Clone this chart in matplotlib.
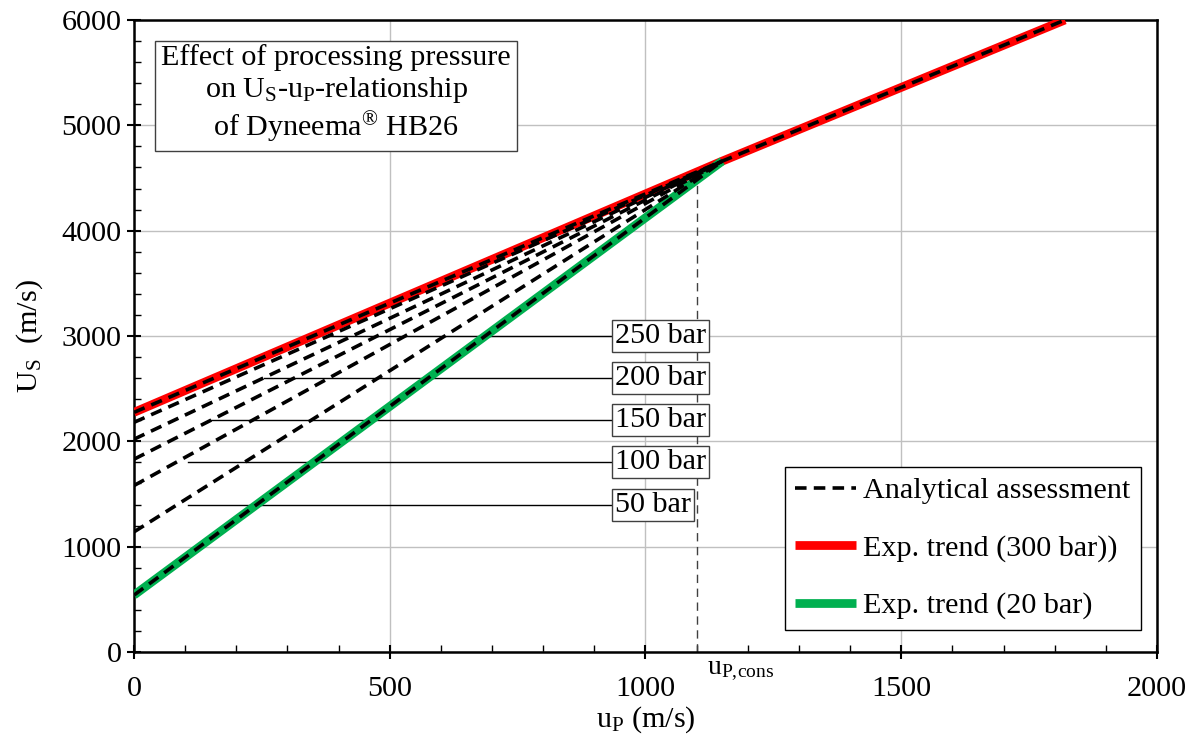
import numpy as np
import matplotlib.pyplot as plt
from matplotlib.ticker import MultipleLocator

plt.rcParams['font.family'] = ['Liberation Serif', 'DejaVu Serif']
plt.rcParams['mathtext.fontset'] = 'custom'
plt.rcParams['mathtext.rm'] = 'Liberation Serif'
plt.rcParams['mathtext.it'] = 'Liberation Serif'

# data
pressures = ['250 bar', '200 bar', '150 bar', '100 bar', '50 bar']
us_0_dashed = [2180, 2020, 1830, 1580, 1140]   # U_S at u_P = 0 (analytical)
us_0_red = 2275    # 300 bar trend
us_0_green = 540   # 20 bar trend
up_kink = 1150
us_kink = 4660
up_end = 1820
us_end = 6000
up_cons = 1100

# label leader lines
label_us = [3000, 2600, 2200, 1800, 1400]
label_up_start = [380, 255, 150, 105, 105]
label_up_end = 935

FS = 21.7

fig = plt.figure(figsize=(11.95, 7.4), dpi=100)
ax = fig.add_axes([0.1121, 0.1189, 0.8561, 0.8541])

def trend(us0):
    return [0, up_kink, up_end], [us0, us_kink, us_end]

x, y = trend(us_0_red)
ax.plot(x, y, color='#ff0000', lw=6.3, solid_capstyle='butt', zorder=3,
        label='Exp. trend (300 bar))')
x, y = trend(us_0_green)
ax.plot(x[:2], y[:2], color='#00b050', lw=6.3, solid_capstyle='butt', zorder=3,
        label='Exp. trend (20 bar)')

dash_kw = dict(color='black', lw=2.6, dashes=(3.2, 2.0), zorder=4)
x, y = trend(us_0_red)
ax.plot(x, y, label='Analytical assessment', **dash_kw)
for us0 in us_0_dashed:
    ax.plot([0, up_kink], [us0, us_kink], **dash_kw)
ax.plot([0, up_kink], [us_0_green, us_kink], **dash_kw)

# u_P,cons marker
green_at_cons = us_0_green + (us_kink - us_0_green) / up_kink * up_cons
ax.plot([up_cons, up_cons], [0, green_at_cons], color='#404040', lw=1,
        dashes=(6, 4), zorder=2)
ax.text(up_cons + 20, -60, r'u$_{\mathrm{P,\!cons}}$', fontsize=20, ha='left', va='top')

# pressure labels
for lab, yv, xs in zip(pressures, label_us, label_up_start):
    ax.plot([xs, label_up_end], [yv, yv], color='black', lw=1, zorder=2)
    ax.text(label_up_end + 6, yv, lab, fontsize=FS, ha='left', va='center', zorder=5,
            bbox=dict(boxstyle='square,pad=0.1', fc='white', ec='#404040', lw=1))

ax.text(395, 5290, 'Effect of processing pressure\non U$_{\\mathrm{S}}$-u$_{\\mathrm{P}}$-relationship\nof Dyneema$^{\\circledR}$ HB26',
        fontsize=FS, ha='center', va='center', linespacing=1.17, zorder=5,
        bbox=dict(boxstyle='square,pad=0.2', fc='white', ec='#404040', lw=1))

ax.set_xlim(0, 2000)
ax.set_ylim(0, 6000)
ax.xaxis.set_major_locator(MultipleLocator(500))
ax.xaxis.set_minor_locator(MultipleLocator(100))
ax.yaxis.set_major_locator(MultipleLocator(1000))
ax.yaxis.set_minor_locator(MultipleLocator(200))
ax.tick_params(which='major', direction='inout', length=10, width=1.5, labelsize=FS)
ax.tick_params(axis='x', which='major', pad=12)
ax.tick_params(axis='y', which='major', pad=4)
ax.tick_params(which='minor', direction='in', length=5, width=1)
ax.grid(True, which='major', color='#c0c0c0', lw=1)
ax.set_axisbelow(True)
for s in ax.spines.values():
    s.set_linewidth(1.8)

ax.set_xlabel('u$_{\\mathrm{P}}$ (m/s)', fontsize=FS, labelpad=2)
ax.set_ylabel('U$_{\\mathrm{S}}$  (m/s)', fontsize=FS, labelpad=12)

handles, labels = ax.get_legend_handles_labels()
order = [2, 0, 1]
ax.legend([handles[i] for i in order], [labels[i] for i in order], loc='lower right',
          fontsize=FS, frameon=True, fancybox=False, edgecolor='black', framealpha=1,
          labelspacing=1.0, handlelength=2.0, handletextpad=0.25, borderpad=0.35,
          borderaxespad=0, bbox_to_anchor=(0.9844, 0.0348))

fig.savefig('out.png', dpi=100)
